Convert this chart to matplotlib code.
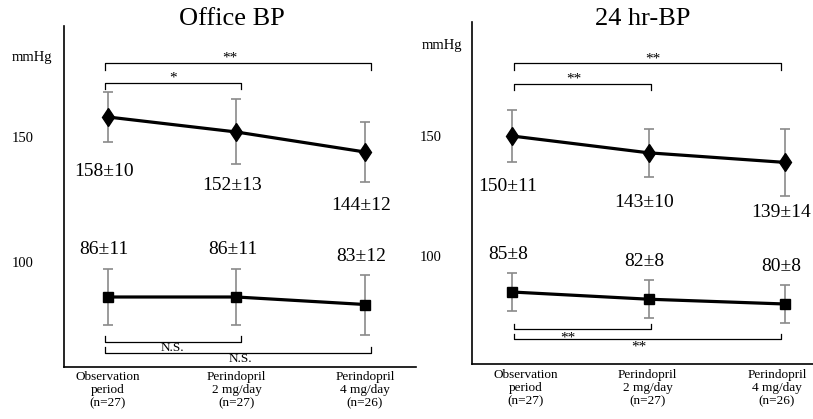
import matplotlib
matplotlib.use('Agg')
import matplotlib.pyplot as plt

plt.rcParams['font.family'] = ['Liberation Serif', 'DejaVu Serif']

groups = ['Observation\nperiod\n(n=27)', 'Perindopril\n2 mg/day\n(n=27)', 'Perindopril\n4 mg/day\n(n=26)']

office_sys = [158, 152, 144]
office_sys_sd = [10, 13, 12]
office_dia = [86, 86, 83]
office_dia_sd = [11, 11, 12]

amb_sys = [150, 143, 139]
amb_sys_sd = [11, 10, 14]
amb_dia = [85, 82, 80]
amb_dia_sd = [8, 8, 8]

yticks = [100, 150]

W, H = 813, 419
fig = plt.figure(figsize=(W / 100, H / 100), dpi=100)


def add_panel(rect, title, title_xy, xlim, ylim, sys, sys_sd, dia, dia_sd,
              sys_dy, dia_dy, mmhg_xy, label_shift=(0, 0, 0), label_pad=4):
    ax = fig.add_axes(rect)
    x = list(range(len(groups)))
    for mean, sd, marker, ms in [(sys, sys_sd, 'd', 9.5), (dia, dia_sd, 's', 7)]:
        eb = ax.errorbar(x, mean, yerr=sd, fmt='none', ecolor='#8a8a8a',
                         elinewidth=1.2, capsize=3.6, capthick=1.2, zorder=2)
        for cap in eb[1]:
            cap.set_color('#444444')
        ax.plot(x, mean, color='black', lw=2.3, marker=marker, ms=ms, zorder=3)

    for i in x:
        ax.annotate(f'{sys[i]}\u00b1{sys_sd[i]}', (i, sys[i]), xytext=(-4, sys_dy),
                    textcoords='offset pixels', ha='center', va='center', fontsize=14)
        ax.annotate(f'{dia[i]}\u00b1{dia_sd[i]}', (i, dia[i]), xytext=(-4, dia_dy),
                    textcoords='offset pixels', ha='center', va='center', fontsize=14)
        # group labels under the axis
        ax.annotate(groups[i], (i, 0), xycoords=ax.get_xaxis_transform(),
                    xytext=(label_shift[i], -label_pad), textcoords='offset pixels',
                    ha='center', va='top', fontsize=9.5, linespacing=1.1,
                    annotation_clip=False)

    ax.set_xlim(*xlim)
    ax.set_ylim(*ylim)
    ax.set_xticks([])
    ax.set_yticks(yticks)
    ax.set_yticklabels([str(t) for t in yticks], fontsize=10.5)
    ax.tick_params(length=0)
    ax.tick_params(axis='y', pad=22)
    for s in ['top', 'right']:
        ax.spines[s].set_visible(False)
    for s in ['left', 'bottom']:
        ax.spines[s].set_linewidth(1.2)
    fig.text(title_xy[0] / W, 1 - title_xy[1] / H, title, ha='center', va='center', fontsize=19)
    fig.text(mmhg_xy[0] / W, 1 - mmhg_xy[1] / H, 'mmHg', ha='left', va='center', fontsize=10.5)
    return ax


def bracket(ax, x0, x1, y, tip, label, lx, ly):
    ax.plot([x0, x0, x1, x1], [tip, y, y, tip], color='black', lw=0.9, zorder=1)
    fs = 9.5 if label == 'N.S.' else 11
    ax.text(lx, ly, label, ha='center', va='center', fontsize=fs)


# left panel: Office BP
axl = add_panel([64 / W, 1 - 367 / H, 352 / W, 341 / H], 'Office BP', (232, 19),
                (-0.342, 2.397), (58, 194.4),
                office_sys, office_sys_sd, office_dia, office_dia_sd,
                -54, 48, (12, 57))
bracket(axl, -0.023, 2.047, 179.6, 176.8, '**', 0.95, 181.6)
bracket(axl, -0.023, 1.035, 171.6, 169.2, '*', 0.51, 173.6)
bracket(axl, -0.023, 1.035, 68.0, 70.4, 'N.S.', 0.50, 65.6)
bracket(axl, -0.023, 2.047, 63.6, 66.0, 'N.S.', 1.03, 61.2)

# right panel: 24 hr-BP
axr = add_panel([472 / W, 1 - 364 / H, 341 / W, 342 / H], '24 hr-BP', (643, 19),
                (-0.293, 2.205), (55, 197.5),
                amb_sys, amb_sys_sd, amb_dia, amb_dia_sd,
                -50, 38, (422, 45), label_shift=(14, -1, -8), label_pad=5)
bracket(axr, 0.015, 1.97, 180.4, 177.5, '**', 1.03, 182.0)
bracket(axr, 0.015, 1.02, 171.7, 169.2, '**', 0.45, 173.8)
bracket(axr, 0.015, 1.02, 69.6, 71.7, '**', 0.41, 65.8)
bracket(axr, 0.015, 1.97, 65.4, 67.5, '**', 0.93, 61.9)

fig.savefig('out.png', dpi=100)
